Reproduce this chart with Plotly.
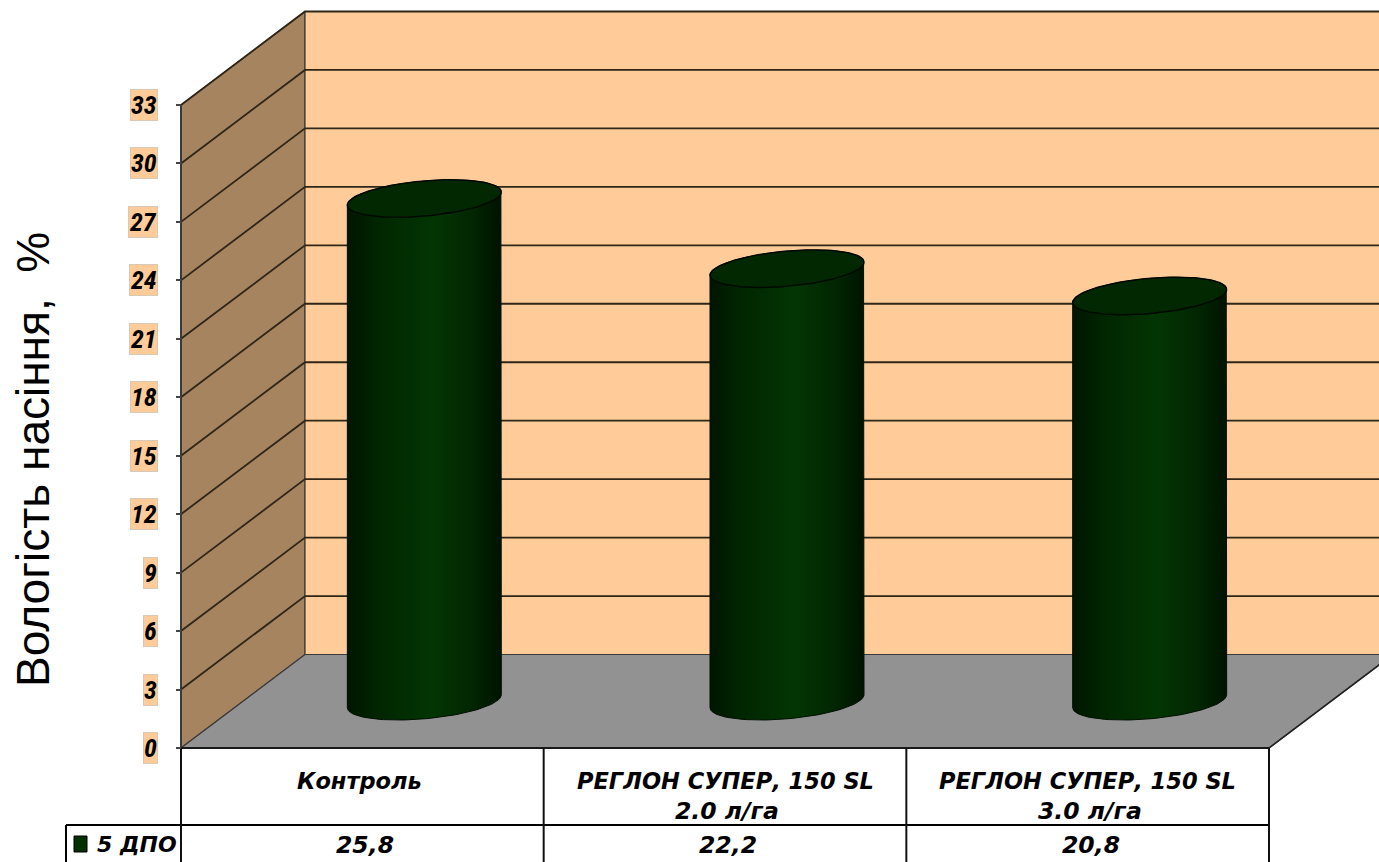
import numpy as np
import plotly.graph_objects as go

categories = ["Контроль", "РЕГЛОН СУПЕР, 150 SL<br>2.0 л/га", "РЕГЛОН СУПЕР, 150 SL<br>3.0 л/га"]
series_name = "5 ДПО"
values = [25.8, 22.2, 20.8]
value_labels = ["25,8", "22,2", "20,8"]
y_ticks = [0, 3, 6, 9, 12, 15, 18, 21, 24, 27, 30, 33]
y_title = "Вологість насіння,\u00a0 %"

W, H = 1379, 862
PX_CAT = 362.67
PX_VAL = 19.485
X0 = 181.0
Y0 = 748.0
DX = 124.0 / PX_CAT      # depth of the 3D box in category units
DY = 93.5 / PX_VAL       # depth of the 3D box in value units
LEFT, RIGHT = -0.5, 2.5
YMAX = 33

x_range = [-0.5 - X0 / PX_CAT, -0.5 + (W - X0) / PX_CAT]
y_range = [(Y0 - H) / PX_VAL, Y0 / PX_VAL]

def xp(px):
    return -0.5 + (px - X0) / PX_CAT

def yp(px):
    return (Y0 - px) / PX_VAL

LINE = "#2f2618"
fig = go.Figure()

def poly(xs, ys, fill, line="#3a3a3a", width=1.2):
    fig.add_trace(go.Scatter(x=xs, y=ys, mode="lines", fill="toself", fillcolor=fill,
                             line=dict(color=line, width=width), hoverinfo="skip", showlegend=False))

def seg(xs, ys, color=LINE, width=1.8):
    fig.add_trace(go.Scatter(x=xs, y=ys, mode="lines", line=dict(color=color, width=width),
                             hoverinfo="skip", showlegend=False))

# walls and floor
poly([LEFT, LEFT, LEFT + DX, LEFT + DX, LEFT], [0, YMAX, YMAX + DY, DY, 0], "#A68460")
poly([LEFT + DX, RIGHT + DX, RIGHT + DX, LEFT + DX, LEFT + DX], [DY, DY, YMAX + DY, YMAX + DY, DY], "#FFCC99")
poly([LEFT, RIGHT, RIGHT + DX, LEFT + DX, LEFT], [0, 0, DY, DY, 0], "#929292")

# gridlines
for t in y_ticks[1:]:
    seg([LEFT, LEFT + DX, RIGHT + DX], [t, t + DY, t + DY])
seg([LEFT, LEFT], [0, YMAX], "#3a3a3a", 2)

# cylinders
A = 77 / PX_CAT
B = 17.6 / PX_VAL
S = 6.5 / PX_VAL
grad = [[0, "#001500"], [0.2, "#012601"], [0.55, "#033503"], [0.8, "#022702"], [1, "#001300"]]
for i, v in enumerate(values):
    cx = i + DX / 2
    base = DY / 2
    top = v + DY / 2
    t_low = np.linspace(np.pi, 2 * np.pi, 60)
    bx = cx + A * np.cos(t_low)
    by = base + S * np.cos(t_low) + B * np.sin(t_low)
    t_up = np.linspace(0, np.pi, 60)
    ux = cx + A * np.cos(t_up)
    uy = top + S * np.cos(t_up) + B * np.sin(t_up)
    fig.add_trace(go.Scatter(x=np.r_[bx, ux, bx[0]], y=np.r_[by, uy, by[0]], mode="lines", fill="toself",
                             fillgradient=dict(type="horizontal", colorscale=grad),
                             line=dict(color="#001000", width=1), name=series_name,
                             hoverinfo="skip", showlegend=False))
    t = np.linspace(0, 2 * np.pi, 120)
    poly(cx + A * np.cos(t), top + S * np.cos(t) + B * np.sin(t), "#022802", "#000800", 1.5)

# data table
T1 = yp(825)
TB = yp(862)
seg([LEFT, RIGHT], [0, 0], "#1a1a1a", 2)
seg([xp(66), RIGHT], [T1, T1], "#000000", 2)
for k in range(4):
    seg([LEFT + k, LEFT + k], [0, TB], "#111111", 2)
seg([xp(66), xp(66)], [T1, TB], "#000000", 2)
seg([RIGHT, RIGHT + DX], [0, DY], "#222222", 1.5)
poly([xp(74), xp(87), xp(87), xp(74), xp(74)], [yp(836), yp(836), yp(852), yp(852), yp(836)], "#013001", "#000000", 1)

FONT_ROW1 = dict(family="DejaVu Sans", size=22.5, color="#000000")
FONT_ROW = dict(family="DejaVu Sans", size=23.5, color="#000000")
FONT_TICK = dict(family="Roboto Condensed, Liberation Sans", size=26, color="#000000")
ann = []
for i, c in enumerate(categories):
    parts = c.split("<br>")
    ann.append(dict(x=i, y=yp(781), xshift=-3 if len(parts) == 1 else 0, text="<b><i>%s</i></b>" % parts[0],
                    showarrow=False, font=FONT_ROW1, xanchor="center", yanchor="middle"))
    if len(parts) > 1:
        ann.append(dict(x=i, y=yp(811), xshift=2, text="<b><i>%s</i></b>" % parts[1], showarrow=False, font=FONT_ROW,
                        xanchor="center", yanchor="middle"))
    ann.append(dict(x=i, y=yp(845), xshift=3, text="<b><i>%s</i></b>" % value_labels[i], showarrow=False,
                    font=FONT_ROW, xanchor="center", yanchor="middle"))
ann.append(dict(x=xp(179), y=yp(844), text="<b><i>%s</i></b>" % series_name, showarrow=False,
                font=dict(family="DejaVu Sans", size=22, color="#000000"),
                xanchor="right", yanchor="middle"))
for t in y_ticks:
    ann.append(dict(x=xp(158), y=t, text="<b><i>%d</i></b>" % t, showarrow=False, font=FONT_TICK,
                    xanchor="right", yanchor="middle", bgcolor="#FFCC99", bordercolor="#d8c8b4",
                    borderwidth=1, borderpad=0))
ann.append(dict(x=xp(33), y=yp(460), text=y_title, textangle=-90, showarrow=False,
                font=dict(family="Liberation Sans", size=46, color="#000000"),
                xanchor="center", yanchor="middle"))

fig.update_layout(
    width=W, height=H, margin=dict(l=0, r=0, t=0, b=0),
    paper_bgcolor="white", plot_bgcolor="white", showlegend=False,
    annotations=ann,
    xaxis=dict(range=x_range, visible=False, domain=[0, 1]),
    yaxis=dict(range=y_range, domain=[0, 1], anchor="free", position=X0 / W, showgrid=False, zeroline=False,
               showline=False, ticks="outside", ticklen=5, tickwidth=1.5, tickcolor="#444444",
               tickvals=y_ticks, showticklabels=False),
)
fig.write_html("out.html", config=dict(displayModeBar=False),
               post_script="document.body.style.margin='0';document.documentElement.style.overflow='hidden';")
